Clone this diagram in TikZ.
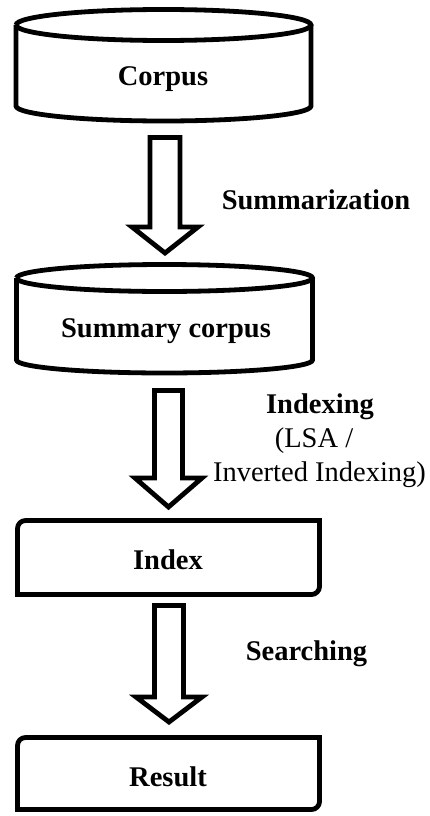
\documentclass[tikz,border=0pt]{standalone}
\usepackage{fontspec}
\setmainfont{Liberation Serif}
\begin{document}
\begin{tikzpicture}[x=1pt,y=-1pt,
  shapeline/.style={draw=black,line width=4.8pt,fill=white,line join=miter},
  blockarrow/.style={draw=black,line width=4.8pt,fill=white,line join=miter,miter limit=10},
  lbl/.style={font=\fontsize{28.5}{33}\selectfont\bfseries,inner sep=0pt,anchor=base},
  sublbl/.style={font=\fontsize{28.5}{33}\selectfont,inner sep=0pt,anchor=base}]
\useasboundingbox (0,0) rectangle (430,816);
\fill[white] (0,0) rectangle (430,816);

% Cylinder 1 (Corpus)
\draw[shapeline] (16,25) -- (16,106) arc[start angle=180,end angle=0,x radius=147.5,y radius=15] -- (311,25);
\draw[shapeline] (16,25) arc[start angle=180,end angle=540,x radius=147.5,y radius=15.5];
\node[lbl] (corpus) at (163,85) {Corpus};

% Cylinder 2 (Summary corpus)
\draw[shapeline] (16.5,278) -- (16.5,360) arc[start angle=180,end angle=0,x radius=148,y radius=13] -- (312.5,278);
\draw[shapeline] (16.5,278) arc[start angle=180,end angle=540,x radius=148,y radius=13.5];
\node[lbl] (summary) at (166,337) {Summary corpus};

% Index box
\draw[shapeline] (17.5,594.5) -- (17.5,528.5) arc[start angle=180,end angle=270,radius=8] -- (319.5,520.5) -- (319.5,586.5) arc[start angle=0,end angle=90,radius=8] -- cycle;
\node[lbl] (index) at (168,569) {Index};

% Result box
\draw[shapeline] (17.5,809.5) -- (17.5,745.5) arc[start angle=180,end angle=270,radius=8] -- (319.5,737.5) -- (319.5,801.5) arc[start angle=0,end angle=90,radius=8] -- cycle;
\node[lbl] (result) at (168,786) {Result};

% Block arrows
\draw[blockarrow] (150,137.5) -- (180,137.5) -- (180,227) -- (198,227) -- (165,253) -- (132,227) -- (150,227) -- cycle;
\draw[blockarrow] (154.5,390.5) -- (182.5,390.5) -- (182.5,478) -- (202,478) -- (168.5,507) -- (135,478) -- (154.5,478) -- cycle;
\draw[blockarrow] (154.5,605.5) -- (183.5,605.5) -- (183.5,697) -- (202,697) -- (169,722) -- (136,697) -- (154.5,697) -- cycle;

% Labels
\node[lbl] (summ) at (316,209) {Summarization};
\node[lbl] (idx) at (320,413) {Indexing};
\node[sublbl] (lsa) at (314,447) {(LSA /};
\node[sublbl] (inv) at (319.5,481) {Inverted Indexing)};
\node[lbl] (srch) at (306.5,660) {Searching};
\end{tikzpicture}
\end{document}
